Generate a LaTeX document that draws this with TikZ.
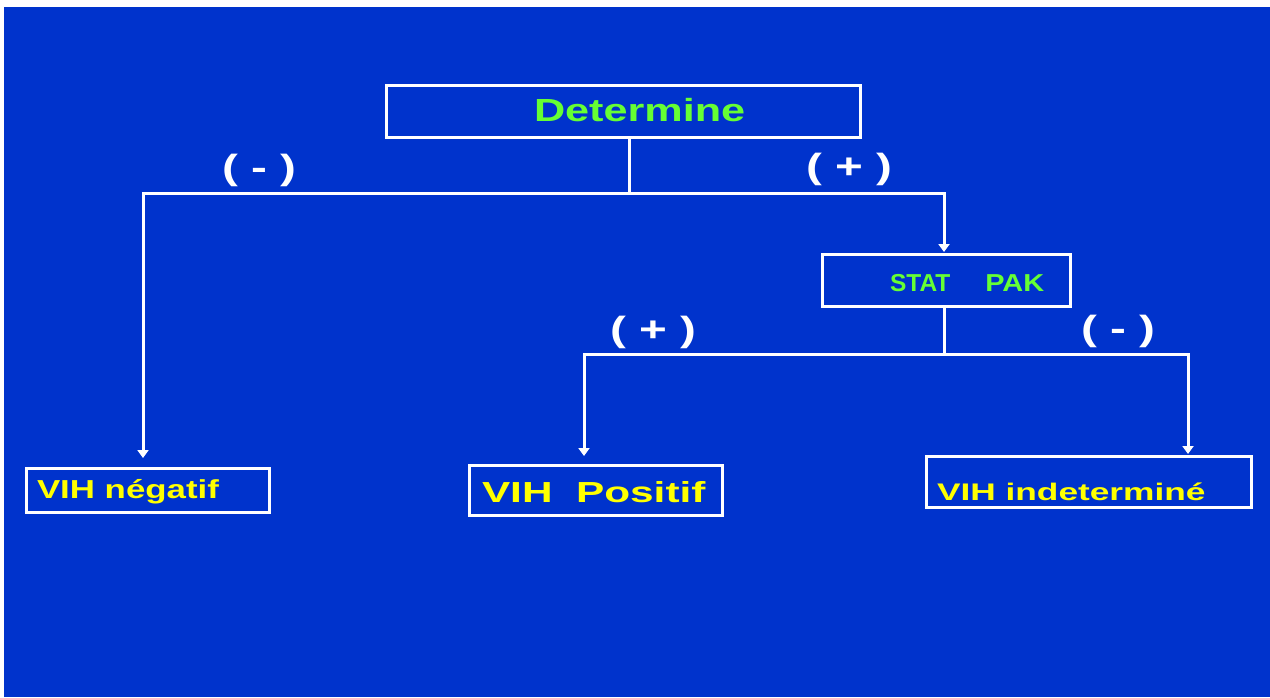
\documentclass[tikz,border=0pt]{standalone}
\usepackage{fontspec}
\usepackage{graphicx}
\setmainfont{Liberation Sans}[BoldFont={Liberation Sans Bold}]
\usetikzlibrary{arrows.meta}
\definecolor{bgblue}{RGB}{0,51,204}
\definecolor{txtgreen}{RGB}{102,255,51}
\definecolor{txtyellow}{RGB}{255,255,0}
\newcommand{\stxt}[3]{\scalebox{#2}[1]{\fontsize{#1}{#1}\selectfont\bfseries #3}}
\tikzset{
  box/.style={draw=white, line width=3.2pt, rectangle, inner sep=0pt},
  lbl/.style={anchor=base west, inner sep=0pt, outer sep=0pt},
  conn/.style={draw=white, line width=3pt},
  arr/.style={conn, -{Triangle[width=11pt,length=8pt]}},
}
\begin{document}
\begin{tikzpicture}[x=1pt,y=-1pt]
\useasboundingbox (0,0) rectangle (1270,697);
\fill[white] (0,0) rectangle (1270,697);
\fill[bgblue] (4,7) rectangle (1270,697);

% boxes
\node[box, minimum width=474pt, minimum height=52pt] (det) at (623.5,111.5) {};
\node[box, minimum width=248pt, minimum height=52pt] (stat) at (946.5,280.5) {};
\node[box, minimum width=243pt, minimum height=44pt] (neg) at (148,490.5) {};
\node[box, minimum width=253pt, minimum height=50pt] (pos) at (596,490.5) {};
\node[box, minimum width=325pt, minimum height=51pt] (ind) at (1089,482) {};

% texts
\node[lbl, text=txtgreen] (dettxt) at (534,121) {\stxt{32}{1.35}{Determine}};
\node[lbl, text=txtgreen] (stattxt) at (890,291) {\stxt{24.5}{1.0}{STAT}\hspace{35pt}\stxt{24.5}{1.18}{PAK}};
\node[lbl, text=txtyellow] (negtxt) at (37,498) {\stxt{26}{1.34}{VIH négatif}};
\node[lbl, text=txtyellow] (postxt) at (482,502) {\stxt{29}{1.46}{VIH\ \ Positif}};
\node[lbl, text=txtyellow] (indtxt) at (937,500) {\stxt{24}{1.47}{VIH indeterminé}};

% sign labels
\node[lbl, text=white] (s1) at (222,179) {\stxt{35}{1.36}{( - )}};
\node[lbl, text=white] (s2) at (806,178) {\stxt{35}{1.36}{( + )}};
\node[lbl, text=white] (s3) at (610,341) {\stxt{35}{1.36}{( + )}};
\node[lbl, text=white] (s4) at (1081,340) {\stxt{35}{1.36}{( - )}};

% junctions and arrow tips
\coordinate (j1) at (629,193);
\coordinate (j2) at (944,354);
\coordinate (tneg) at (143,458);
\coordinate (tstat) at (944,252);
\coordinate (tpos) at (584,456);
\coordinate (tind) at (1188,454);

% connectors
\draw[conn] (det.south -| j1) -- (j1);
\draw[arr] (j1) -| (tneg);
\draw[arr] (j1) -| (tstat);
\draw[conn] (stat.south -| j2) -- (j2);
\draw[arr] (j2) -| (tpos);
\draw[arr] (j2) -| (tind);
\end{tikzpicture}
\end{document}
